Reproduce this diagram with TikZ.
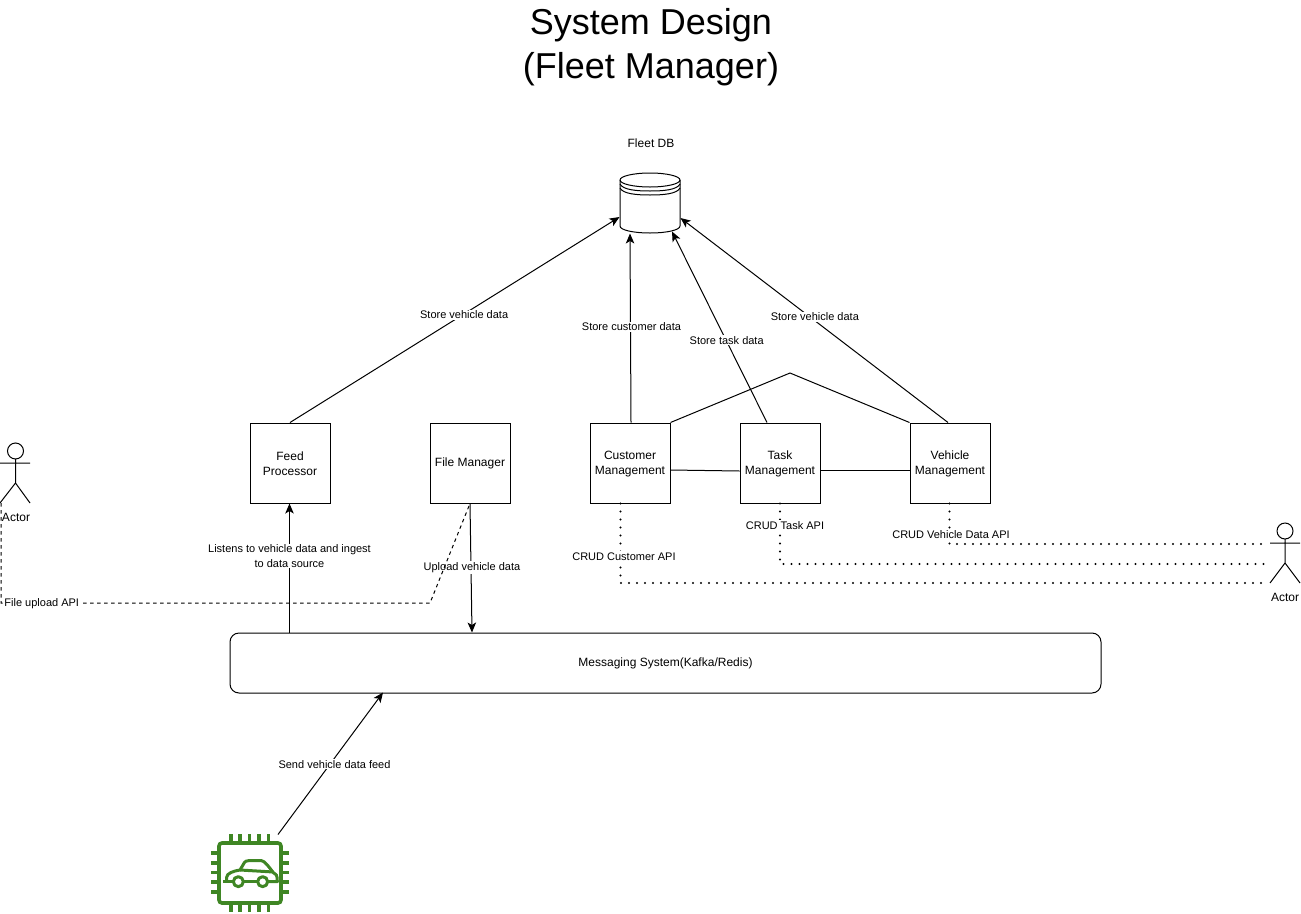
\documentclass[tikz,border=0pt]{standalone}
\usepackage{fontspec}
\setmainfont{Liberation Sans}
\usetikzlibrary{arrows.meta,calc}
\definecolor{chipgreen}{HTML}{3F8624}
\tikzset{
  box/.style={draw,minimum width=80pt,minimum height=80pt,inner sep=1pt},
  boxtxt/.style={inner sep=0pt,align=center,yshift=-0.8pt,font=\fontsize{12}{15}\selectfont},
  lbl/.style={fill=white,inner sep=1pt,align=center,yshift=-0.8pt,font=\fontsize{11}{14.5}\selectfont},
  txt/.style={inner sep=0pt,align=center,font=\fontsize{12}{15}\selectfont},
  arr/.style={-{Stealth[length=10pt,width=8.5pt,inset=2.5pt]}},
  dots/.style={line width=2.4pt,line cap=round,dash pattern=on 0pt off 8pt},
  dash16/.style={dash pattern=on 3.5pt off 3.5pt},
  ghost/.style={inner sep=0pt,minimum width=#1,minimum height=60pt},
}
\begin{document}
\begin{tikzpicture}[x=1pt,y=-1pt,line width=1pt]
\useasboundingbox (0,0) rectangle (1301,913);
% title
\node[inner sep=0pt,align=center,font=\fontsize{36}{44}\selectfont] (title) at (651,47.5) {System Design\\(Fleet Manager)};
% database
\node[txt] (dblabel) at (651,143) {Fleet DB};
\node[ghost=60pt] (db) at (650,203) {};
\draw (620,180) arc[start angle=180,end angle=360,x radius=30,y radius=-7]
      arc[start angle=0,end angle=180,x radius=30,y radius=-7];
\draw (620,180) -- (620,226) .. controls (620,230) and (633,233) .. (650,233)
      .. controls (667,233) and (680,230) .. (680,226) -- (680,180);
\draw (620,184) .. controls (623,190) and (637,191) .. (650,191) .. controls (663,191) and (677,190) .. (680,184);
\draw (620,188) .. controls (623,194) and (637,195) .. (650,195) .. controls (663,195) and (677,194) .. (680,188);
% boxes
\node[box] (feed) at (290,463) {};
\node[boxtxt] (feedt) at (feed) {Feed\\Processor};
\node[box] (file) at (470,463) {};
\node[boxtxt] (filet) at (file) {File Manager};
\node[box] (cust) at (630,463) {};
\node[boxtxt] (custt) at (cust) {Customer\\Management};
\node[box] (task) at (780,463) {};
\node[boxtxt] (taskt) at (task) {Task\\Management};
\node[box] (veh) at (950,463) {};
\node[boxtxt] (veht) at (veh) {Vehicle\\Management};
\node[draw,rounded corners=9pt,minimum width=871pt,minimum height=60pt,inner sep=0pt] (msg) at (665.5,663) {};
\node[boxtxt] (msgt) at (msg) {Messaging System(Kafka/Redis)};
% actors
\node[ghost=30pt] (actorL) at (15,473) {};
\node[txt] (actorLt) at (16,517) {Actor};
\draw (15.5,451) circle[radius=8];
\draw (0,463) -- (30,463) (15.5,459) -- (15.5,483) -- (0,503) (15.5,483) -- (30,503);
\node[ghost=30pt] (actorR) at (1285,553) {};
\node[txt] (actorRt) at (1285,597) {Actor};
\draw (1285,531) circle[radius=8];
\draw (1270,543) -- (1300,543) (1285,539) -- (1285,563) -- (1270,583) (1285,563) -- (1300,583);
% chip icon
\node[inner sep=0pt,minimum size=80pt] (chip) at (250,873) {};
\begin{scope}[chipgreen,line width=3.6pt]
  \draw[rounded corners=3pt] (219,843) rectangle (281,903);
  \foreach \p in {231,240,249.5,259,268.5} {
    \draw (\p,834) -- (\p,843);
    \draw (\p,903) -- (\p,912);
  }
  \foreach \p in {853,863,872.5,882,892} {
    \draw (211,\p) -- (219,\p);
    \draw (281,\p) -- (289,\p);
  }
  \begin{scope}[shift={(190,820)},x=0.3333pt,y=-0.3333pt,line width=3pt,line join=round]
    \draw (130,183) -- (100,183);
    \draw (110,183) -- (110,172) .. controls (110,160) and (130,153) .. (150,150)
      -- (163,128) .. controls (165,124) and (170,122) .. (176,122)
      -- (215,122) .. controls (224,122) and (240,145) .. (250,158)
      .. controls (258,160) and (262,165) .. (262,185) -- (233,185);
    \draw (160,185) -- (203,185);
    \draw (145,185) circle[radius=15];
    \draw (218,185) circle[radius=15];
    \draw (150,150) -- (250,156);
  \end{scope}
\end{scope}
% named free ends
\coordinate (vEnd) at (1268,544);
\coordinate (tEnd) at (1268,564);
\coordinate (cEnd) at (1268,583);
\coordinate (aStart) at (1,503);
% store arrows
\draw[arr] (feed.north) -- node[lbl,pos=0.527,xshift=0.5pt] {Store vehicle data} ([yshift=-14pt]db.west);
\draw[arr] ([xshift=1pt]cust.north) -- node[lbl,pos=0.51,xshift=1pt] {Store customer data} ([xshift=-20pt]db.south);
\draw[arr] ([xshift=-13pt]task.north) -- node[lbl,pos=0.435,xshift=1pt] {Store task data} ([xshift=22pt,yshift=2pt]db.south);
\draw[arr] ([xshift=-2pt]veh.north) -- node[lbl,pos=0.522,xshift=6.5pt] {Store vehicle data} ([yshift=-15pt]db.east);
% links between services
\coordinate (peak) at (790,373);
\draw (cust.north east) -- (peak) -- (veh.north west);
\draw ([yshift=-7pt]cust.east) -- ([yshift=-8pt]task.west);
\draw ([yshift=-7pt]task.east) -- ([yshift=-7pt]veh.west);
% messaging
\draw[arr] ([xshift=-0.5pt]feed.south |- msg.north) -- node[lbl,pos=0.6] {Listens to vehicle data and ingest\\to data source} ([xshift=-0.5pt]feed.south);
\draw[arr] (file.south) -- node[lbl,pos=0.49,xshift=1pt] {Upload vehicle data} ([xshift=2pt]file.south |- msg.north);
\draw[arr] ([xshift=28pt,yshift=-2pt]chip.north) -- node[lbl,xshift=4pt] {Send vehicle data feed} ([xshift=-282.5pt,yshift=1pt]msg.south);
% dashed upload
\coordinate (kneeA) at (1,603);
\coordinate (kneeB) at (430,603);
\draw[dash16] (aStart) -- (kneeA) -- node[lbl,pos=0.095] {File upload API} (kneeB) -- (file.south);
% dotted API links
\draw[dots] ([xshift=-0.5pt]veh.south) -- ([xshift=-0.5pt]veh.south |- vEnd) -- (vEnd);
\draw[dots] (task.south) -- (task.south |- tEnd) -- (tEnd);
\draw[dots] ([xshift=-9.5pt]cust.south) -- ([xshift=-9.5pt]cust.south |- cEnd) -- (cEnd);
\node[lbl] (lv) at (951,533.5) {CRUD Vehicle Data API};
\node[lbl] (lt) at (785,524.5) {CRUD Task API};
\node[lbl] (lc) at (624,555.5) {CRUD Customer API};
\end{tikzpicture}
\end{document}
